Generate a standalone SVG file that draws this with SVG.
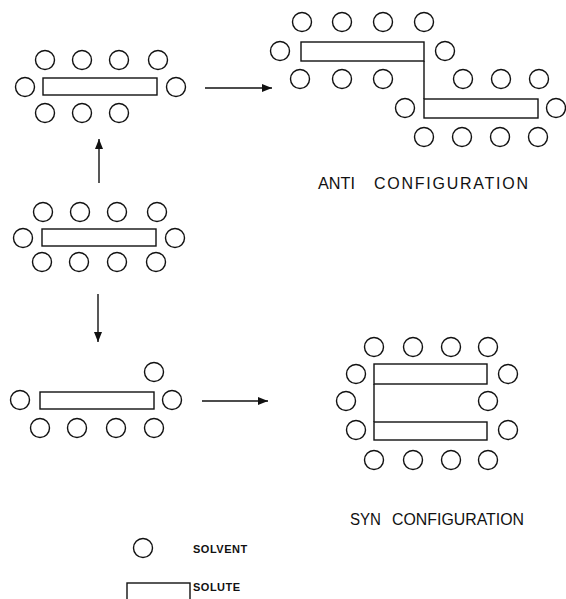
<svg xmlns="http://www.w3.org/2000/svg" width="566" height="599" viewBox="0 0 566 599">
<style>
  circle{fill:#fff;stroke:#111;stroke-width:1.4}
  rect{fill:#fff;stroke:#111;stroke-width:1.4}
  .ln{fill:none;stroke:#111;stroke-width:1.4}
  .lbl{font-family:"Liberation Sans",Arial,sans-serif;font-size:16px;fill:#111}
  .leg{font-family:"Liberation Sans",Arial,sans-serif;font-size:11px;font-weight:bold;fill:#111;letter-spacing:0.5px}
</style>
<defs>
  <marker id="ah" viewBox="0 0 10 8" refX="10" refY="4" markerWidth="10" markerHeight="8" markerUnits="userSpaceOnUse" orient="auto">
    <path d="M0,0 L10,4 L0,8 z" fill="#111"/>
  </marker>
</defs>

<g id="start-config">
  <circle cx="43" cy="212" r="9.5"/><circle cx="80" cy="212" r="9.5"/><circle cx="117" cy="212" r="9.5"/><circle cx="157" cy="212" r="9.5"/>
  <rect x="42" y="229" width="114" height="17"/>
  <circle cx="23" cy="238" r="9.5"/><circle cx="175" cy="238" r="9.5"/>
  <circle cx="42" cy="262" r="9.5"/><circle cx="79" cy="262" r="9.5"/><circle cx="117" cy="262" r="9.5"/><circle cx="156" cy="262" r="9.5"/>
</g>

<g id="upper-config">
  <circle cx="45" cy="60" r="9.5"/><circle cx="82" cy="60" r="9.5"/><circle cx="119" cy="60" r="9.5"/><circle cx="158" cy="60" r="9.5"/>
  <rect x="43" y="78" width="114" height="17"/>
  <circle cx="25" cy="87" r="9.5"/><circle cx="176" cy="87" r="9.5"/>
  <circle cx="45" cy="113" r="9.5"/><circle cx="82" cy="113" r="9.5"/><circle cx="119" cy="113" r="9.5"/>
</g>

<g id="lower-config">
  <circle cx="154" cy="372" r="9.5"/>
  <rect x="40" y="392" width="114" height="17"/>
  <circle cx="20" cy="400" r="9.5"/><circle cx="172" cy="400" r="9.5"/>
  <circle cx="40" cy="428" r="9.5"/><circle cx="77" cy="428" r="9.5"/><circle cx="116" cy="428" r="9.5"/><circle cx="154" cy="428" r="9.5"/>
</g>

<g id="anti-config">
  <circle cx="302" cy="22" r="9.5"/><circle cx="342" cy="22" r="9.5"/><circle cx="383" cy="22" r="9.5"/><circle cx="424" cy="22" r="9.5"/>
  <rect x="301" y="42" width="123" height="19"/>
  <circle cx="280" cy="51" r="9.5"/><circle cx="445" cy="51" r="9.5"/>
  <circle cx="300" cy="79" r="9.5"/><circle cx="342" cy="79" r="9.5"/><circle cx="383" cy="79" r="9.5"/>
  <circle cx="463" cy="79" r="9.5"/><circle cx="501" cy="79" r="9.5"/><circle cx="539" cy="79" r="9.5"/>
  <line class="ln" x1="424" y1="61" x2="424" y2="99"/>
  <rect x="424" y="99" width="114" height="19"/>
  <circle cx="405" cy="108" r="9.5"/><circle cx="556" cy="108" r="9.5"/>
  <circle cx="424" cy="137" r="9.5"/><circle cx="462" cy="137" r="9.5"/><circle cx="500" cy="137" r="9.5"/><circle cx="538" cy="137" r="9.5"/>
  <text class="lbl" x="318" y="189" textLength="37" lengthAdjust="spacingAndGlyphs">ANTI</text>
  <text class="lbl" x="374" y="189" textLength="154" lengthAdjust="spacing">CONFIGURATION</text>
</g>

<g id="syn-config">
  <circle cx="374" cy="347" r="9.5"/><circle cx="413" cy="347" r="9.5"/><circle cx="451" cy="347" r="9.5"/><circle cx="488" cy="347" r="9.5"/>
  <rect x="374" y="364" width="113" height="20"/>
  <line class="ln" x1="374" y1="384" x2="374" y2="422"/>
  <rect x="374" y="422" width="113" height="18"/>
  <circle cx="356" cy="374" r="9.5"/><circle cx="346" cy="401" r="9.5"/><circle cx="356" cy="430" r="9.5"/>
  <circle cx="508" cy="374" r="9.5"/><circle cx="488" cy="401" r="9.5"/><circle cx="508" cy="430" r="9.5"/>
  <circle cx="374" cy="460" r="9.5"/><circle cx="413" cy="460" r="9.5"/><circle cx="451" cy="460" r="9.5"/><circle cx="488" cy="460" r="9.5"/>
  <text class="lbl" x="350" y="525" textLength="31" lengthAdjust="spacingAndGlyphs">SYN</text>
  <text class="lbl" x="392" y="525" textLength="132" lengthAdjust="spacingAndGlyphs">CONFIGURATION</text>
</g>

<g id="connectors">
  <line class="ln" x1="99" y1="183" x2="99" y2="139" marker-end="url(#ah)"/>
  <line class="ln" x1="98" y1="294" x2="98" y2="342" marker-end="url(#ah)"/>
  <line class="ln" x1="205" y1="88" x2="272" y2="88" marker-end="url(#ah)"/>
  <line class="ln" x1="202" y1="401" x2="268" y2="401" marker-end="url(#ah)"/>
</g>

<g id="legend">
  <circle cx="143" cy="548" r="9.5"/>
  <text class="leg" x="193" y="553">SOLVENT</text>
  <rect x="127" y="583" width="63" height="20"/>
  <text class="leg" x="193" y="591">SOLUTE</text>
</g>
</svg>
